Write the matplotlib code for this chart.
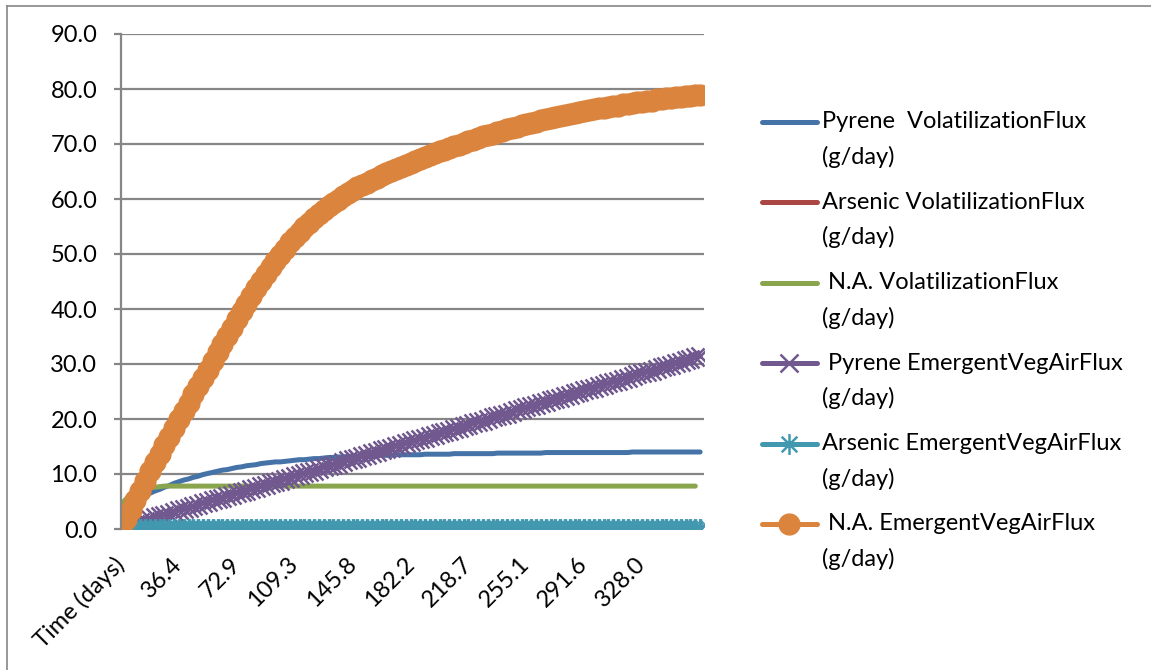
import matplotlib
matplotlib.use("Agg")
import matplotlib.pyplot as plt
from matplotlib.lines import Line2D
from matplotlib.path import Path
import numpy as np

plt.rcParams['font.family'] = ['Lato', 'DejaVu Sans']

# category labels shown under the axis (one every 12 samples)
tick_labels = ["Time (days)", "36.4", "72.9", "109.3", "145.8",
               "182.2", "218.7", "255.1", "291.6", "328.0"]
label_step = 12

pyrene_vol = [
    4.0, 4.4, 4.8, 5.3, 5.7, 6.1, 6.5,
    6.9, 7.2, 7.6, 7.9, 8.3, 8.6,
    8.9, 9.1, 9.4, 9.6, 9.9, 10.1,
    10.3, 10.5, 10.7, 10.8, 11.0, 11.2,
    11.3, 11.5, 11.6, 11.7, 11.9, 12.0,
    12.1, 12.2, 12.2, 12.3, 12.4, 12.5,
    12.6, 12.6, 12.7, 12.8, 12.8, 12.9,
    13.0, 13.0, 13.1, 13.1, 13.2, 13.2,
    13.2, 13.3, 13.3, 13.3, 13.4, 13.4,
    13.4, 13.4, 13.5, 13.5, 13.5, 13.5,
    13.5, 13.5, 13.6, 13.6, 13.6, 13.6,
    13.6, 13.6, 13.7, 13.7, 13.7, 13.7,
    13.7, 13.7, 13.7, 13.7, 13.7, 13.8,
    13.8, 13.8, 13.8, 13.8, 13.8, 13.8,
    13.8, 13.8, 13.8, 13.9, 13.9, 13.9,
    13.9, 13.9, 13.9, 13.9, 13.9, 13.9,
    13.9, 13.9, 13.9, 13.9, 13.9, 13.9,
    13.9, 13.9, 13.9, 14.0, 14.0, 14.0,
    14.0, 14.0, 14.0, 14.0, 14.0, 14.0,
    14.0, 14.0, 14.0, 14.0, 14.0, 14.0,
]

arsenic_vol = [0.0] * 121

na_vol = [
    4.5, 5.4, 6.1, 6.6, 7.0, 7.3, 7.5, 7.6, 7.7, 7.8,
] + [7.8] * 110 + [np.nan]

pyrene_veg = [
    0.0, 0.3, 0.6, 0.9, 1.2, 1.5,
    1.8, 2.1, 2.3, 2.6, 2.8, 3.1, 3.4, 3.6, 3.9, 4.1,
    4.4, 4.7, 4.9, 5.2, 5.4, 5.7, 6.0, 6.2, 6.5, 6.7,
    7.0, 7.3, 7.5, 7.8, 8.0, 8.3, 8.6, 8.8, 9.1, 9.3,
    9.6, 9.9, 10.1, 10.4, 10.6, 10.9, 11.2, 11.4, 11.7, 11.9,
    12.2, 12.5, 12.7, 13.0, 13.2, 13.5, 13.8, 14.0, 14.3, 14.5,
    14.8, 15.1, 15.3, 15.6, 15.8, 16.1, 16.4, 16.6, 16.9, 17.1,
    17.4, 17.7, 17.9, 18.2, 18.4, 18.7, 19.0, 19.2, 19.5, 19.7,
    20.0, 20.3, 20.5, 20.8, 21.0, 21.3, 21.6, 21.8, 22.1, 22.3,
    22.6, 22.9, 23.1, 23.4, 23.6, 23.9, 24.2, 24.4, 24.7, 24.9,
    25.2, 25.5, 25.7, 26.0, 26.2, 26.5, 26.8, 27.0, 27.3, 27.5,
    27.8, 28.1, 28.3, 28.6, 28.8, 29.1, 29.4, 29.6, 29.9, 30.1,
    30.4, 30.7, 30.9, 31.2, 31.4,
]

arsenic_veg = [0.0] * 121

na_veg = [
    0.0, 1.8, 3.5, 5.3, 7.0, 8.8, 10.5,
    12.1, 13.7, 15.3, 16.8, 18.4, 20.0,
    21.5, 23.0, 24.5, 26.0, 27.4, 28.9,
    30.5, 32.1, 33.6, 35.1, 36.6, 38.1,
    39.6, 41.0, 42.4, 43.8, 45.1, 46.4,
    47.6, 48.8, 49.9, 51.0, 52.1, 53.1,
    54.0, 54.9, 55.7, 56.5, 57.3, 58.0,
    58.7, 59.3, 59.9, 60.5, 61.1, 61.6,
    62.1, 62.6, 63.0, 63.5, 63.9, 64.3,
    64.7, 65.1, 65.5, 65.8, 66.2, 66.5,
    66.9, 67.2, 67.6, 68.0, 68.3, 68.7,
    69.0, 69.3, 69.6, 69.9, 70.2, 70.5,
    70.8, 71.1, 71.4, 71.6, 71.9, 72.2,
    72.4, 72.7, 72.9, 73.1, 73.4, 73.6,
    73.8, 74.0, 74.3, 74.5, 74.7, 74.9,
    75.1, 75.3, 75.5, 75.6, 75.8, 76.0,
    76.2, 76.3, 76.5, 76.6, 76.8, 76.9,
    77.0, 77.2, 77.3, 77.4, 77.6, 77.7,
    77.8, 77.9, 78.1, 78.2, 78.3, 78.4,
    78.5, 78.6, 78.7, 78.8, 78.9, 79.0,
]

names = ["Pyrene  VolatilizationFlux", "Arsenic VolatilizationFlux",
         " N.A. VolatilizationFlux", " Pyrene EmergentVegAirFlux",
         "Arsenic EmergentVegAirFlux", " N.A. EmergentVegAirFlux"]
colors = ["#4572A7", "#AA4643", "#89A54E", "#71588F", "#4198AF", "#DB843D"]

# excel style asterisk: vertical bar plus an X
star = Path([(0, -1), (0, 1), (-0.75, -0.75), (0.75, 0.75), (-0.75, 0.75), (0.75, -0.75)],
            [Path.MOVETO, Path.LINETO, Path.MOVETO, Path.LINETO, Path.MOVETO, Path.LINETO])

styles = [
    dict(marker=None),
    dict(marker=None),
    dict(marker=None),
    dict(marker="x", ms=13, mew=1.8),
    dict(marker=star, ms=15, mew=2.4),
    dict(marker="o", ms=15, mew=1.0),
]

series = [pyrene_vol, arsenic_vol, na_vol, pyrene_veg, arsenic_veg, na_veg]

fig = plt.figure(figsize=(11.51, 6.70), dpi=100)
ax = fig.add_axes([121 / 1151, 141 / 670, 583 / 1151, 495 / 670])

grid_col = "#868686"
x = np.arange(len(na_veg))
for vals, col, st in zip(series, colors, styles):
    ax.plot(x, vals, color=col, lw=3.6, solid_capstyle="round",
            mec=col, mfc=col, **st)

ax.set_xlim(0, 120.8)
ax.set_ylim(0, 90)
ax.set_yticks(np.arange(0, 91, 10))
ax.set_yticklabels(["%.1f" % v for v in np.arange(0, 91, 10)], fontsize=17)
ax.yaxis.grid(True, color=grid_col, lw=1.6)
ax.set_axisbelow(True)
ax.tick_params(axis="y", length=5, width=1.6, color=grid_col, pad=12)

ax.set_xticks(np.arange(len(tick_labels)) * label_step)
ax.set_xticklabels(tick_labels, rotation=45, ha="right", va="center",
                   rotation_mode="anchor", fontsize=17)
ax.tick_params(axis="x", length=0, pad=23)

for s in ["top", "right", "bottom"]:
    ax.spines[s].set_visible(False)
ax.spines["left"].set_color(grid_col)
ax.spines["left"].set_linewidth(1.6)

# legend drawn by hand so the key sits on the first text line
ly0 = 122
lstep = 80.4
for k, (name, col, st) in enumerate(zip(names, colors, styles)):
    yy = 1 - (ly0 + k * lstep) / 670
    fig.add_artist(Line2D([762 / 1151, 817 / 1151], [yy, yy], color=col, lw=3.6,
                          solid_capstyle="round"))
    if st["marker"] is not None:
        fig.add_artist(Line2D([789.5 / 1151], [yy], color=col, marker=st["marker"],
                              ms=st["ms"], mew=min(st["mew"], 1.8), mec=col, mfc=col, lw=0))
    fig.text(822 / 1151, yy, name, fontsize=17, va="center", ha="left")
    fig.text(822 / 1151, yy - 35 / 670, "(g/day)", fontsize=17, va="center", ha="left")

# chart area border
fig.add_artist(Line2D([7.5 / 1151, 7.5 / 1151], [0, 1 - 5.5 / 670], color=grid_col, lw=1.2))
fig.add_artist(Line2D([7.5 / 1151, 1], [1 - 5.5 / 670, 1 - 5.5 / 670], color=grid_col, lw=1.2))

fig.savefig("out.png", dpi=100)
